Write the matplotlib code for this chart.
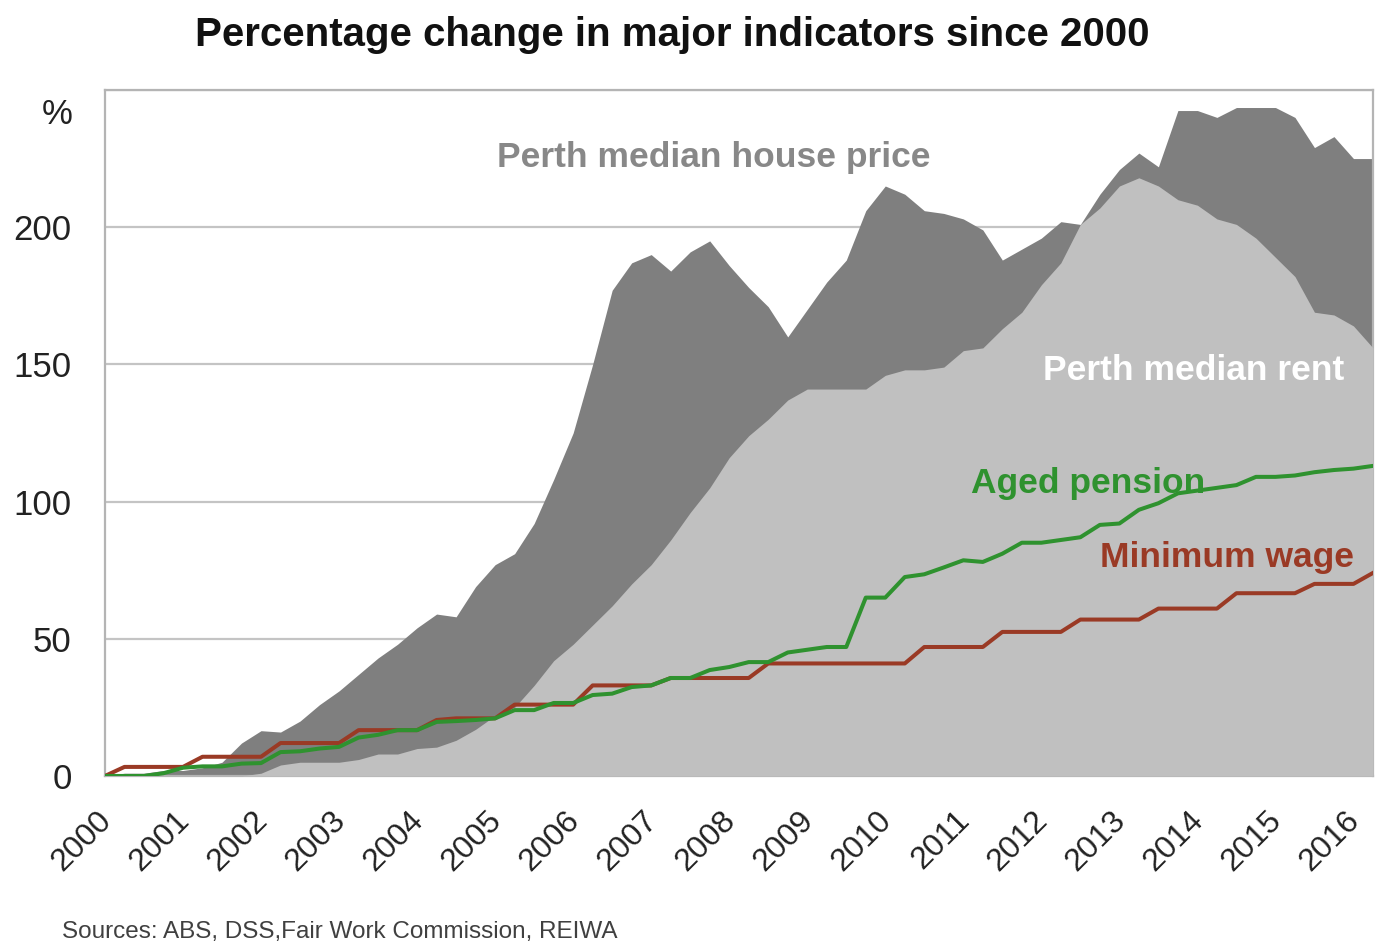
import numpy as np
import matplotlib.pyplot as plt
from matplotlib.transforms import ScaledTranslation

plt.rcParams['font.family'] = ['Liberation Sans', 'DejaVu Sans']

# quarterly observations, March 2000 to June 2016
years = list(range(2000, 2017))
quarters = [f"{y}Q{q}" for y in years for q in range(1, 5)][:66]

house_price = [0, 1, 1, 2, 2, 3, 5, 12, 16.5, 16, 20, 26, 31, 37, 43, 48,
               54, 59, 58, 69, 77, 81, 92, 108, 125, 150, 177, 187, 190, 184, 191, 195,
               186, 178, 171, 160, 170, 180, 188, 206, 215, 212, 206, 205, 203, 199, 188, 192,
               196, 202, 201, 212, 221, 227, 222, 242.5, 242.5, 240, 243.6, 243.6, 243.6, 240, 229, 233,
               225, 225]

median_rent = [0, 0, 0, 0, 0, 0, 0, 0, 1, 4, 5, 5, 5, 6, 8, 8,
               10, 10.5, 13, 17, 22, 25, 33, 42, 48, 55, 62, 70, 77, 86, 96, 105,
               116, 124, 130, 137, 141, 141, 141, 141, 146, 148, 148, 149, 155, 156, 163, 169,
               179, 187, 201, 207, 215, 218, 215, 210, 208, 203, 201, 196, 189, 182, 169, 168,
               164, 156]

aged_pension = [0, 0, 0, 1, 3, 3.5, 3.5, 4.5, 4.7, 8.7, 9, 10, 10.6, 14, 15, 16.7,
                16.7, 19.7, 20, 20.4, 21, 24, 24, 26.6, 26.6, 29.5, 30, 32.4, 33, 35.7, 35.7, 38.6,
                39.7, 41.5, 41.5, 45, 46, 47, 47, 65, 65, 72.5, 73.5, 76, 78.6, 78, 81, 85,
                85, 86, 87, 91.5, 92, 97, 99.4, 103, 104, 105, 106, 109, 109, 109.5, 110.7, 111.5,
                112, 113]

minimum_wage = [0, 3.3, 3.3, 3.3, 3.3, 7, 7, 7, 7, 12, 12, 12, 12, 16.7, 16.7, 16.7,
                16.7, 20.4, 21, 21, 21, 26, 26, 26, 26, 33, 33, 33, 33, 35.7, 35.7, 35.7,
                35.7, 35.7, 41, 41, 41, 41, 41, 41, 41, 41, 47, 47, 47, 47, 52.5, 52.5,
                52.5, 52.5, 57, 57, 57, 57, 61, 61, 61, 61, 66.6, 66.6, 66.6, 66.6, 70, 70,
                70, 74]

y_ticks = [0, 50, 100, 150, 200, 250]
y_labels = ['0', '50', '100', '150', '200', '']

x = np.arange(len(quarters))

fig = plt.figure(figsize=(13.81, 9.44), dpi=100)
ax = fig.add_axes([0.076, 0.178, 0.9182, 0.7267])

ax.fill_between(x, 0, house_price, color='#7f7f7f', lw=0, zorder=2)
ax.fill_between(x, 0, median_rent, color='#c0c0c0', lw=0, zorder=3)
ax.plot(x, minimum_wage, color='#9a3a25', lw=2.9, zorder=4)
ax.plot(x, aged_pension, color='#2f922f', lw=2.9, zorder=5)

ax.set_xlim(0, len(quarters) - 1)
ax.set_ylim(0, 250)
ax.set_yticks(y_ticks)
ax.set_yticklabels(y_labels)
ax.set_xticks(x[::4])
ax.set_xticklabels([str(y) for y in years])

ax.grid(axis='y', color='#c4c4c4', lw=1.6, zorder=0)
ax.set_axisbelow(True)
for s in ax.spines.values():
    s.set_color('#b4b4b4')
    s.set_linewidth(1.6)

ax.tick_params(axis='y', length=0, pad=24, labelsize=25, labelcolor='#222222')
ax.tick_params(axis='x', length=0, pad=21, labelsize=23, labelcolor='#222222')
offset = ScaledTranslation(-9 / 100, 0, fig.dpi_scale_trans)
for lab in ax.get_xticklabels():
    lab.set_rotation(45)
    lab.set_ha('right')
    lab.set_va('top')
    lab.set_rotation_mode('anchor')
    lab.set_transform(lab.get_transform() + offset)


def label(px, py, s, color, size=25.5):
    # pixel position in the original picture (origin top-left)
    fig.text(px / 1381, 1 - py / 944, s, color=color, fontsize=size,
             fontweight='bold', ha='center', va='center')


label(714, 158, 'Perth median house price', '#888888')
label(1194, 371, 'Perth median rent', 'white')
label(1088, 484, 'Aged pension', '#2f922f')
label(1227, 557, 'Minimum wage', '#9a3a25')

fig.text(57 / 1381, 1 - 115 / 944, '%', fontsize=25, color='#222222', ha='center', va='center')
fig.text(672 / 1381, 1 - 35 / 944, 'Percentage change in major indicators since 2000',
         fontsize=29, fontweight='bold', color='#111111', ha='center', va='center')
fig.text(62 / 1381, 1 - 932 / 944, 'Sources: ABS, DSS,Fair Work Commission, REIWA',
         fontsize=17.5, color='#404040', ha='left', va='center')

fig.savefig('out.png', dpi=100)
